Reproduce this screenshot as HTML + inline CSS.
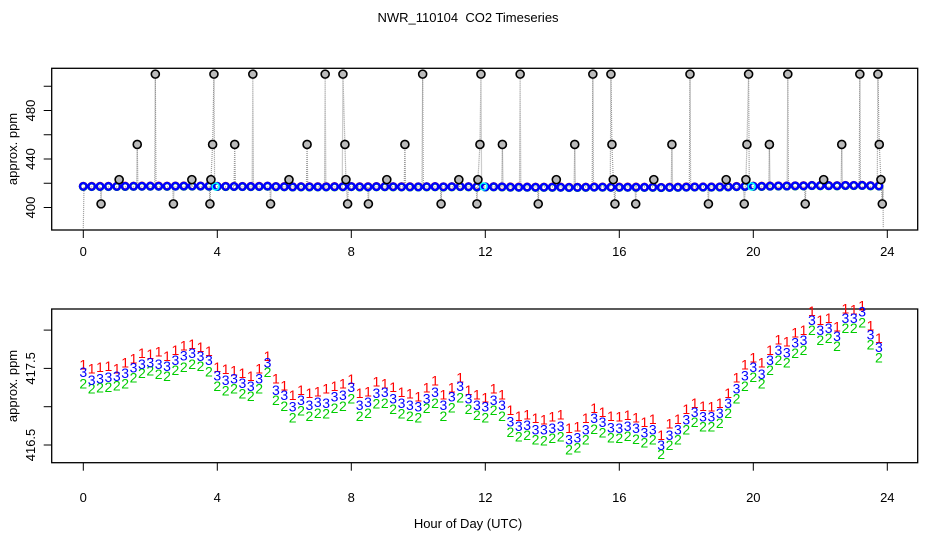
<!DOCTYPE html>
<html><head><meta charset="utf-8"><style>
body{margin:0;background:#fff;}
svg{display:block;font-family:"Liberation Sans",sans-serif;}
</style></head><body>
<svg id="chart" width="936" height="540" viewBox="0 0 936 540">
<text x="468" y="22" text-anchor="middle" font-size="13" style="white-space:pre">NWR_110104  CO2 Timeseries</text>
<text x="468" y="528" text-anchor="middle" font-size="13">Hour of Day (UTC)</text>
<g id="top"></g>
<g id="bot"></g>
</svg>
<script>
const hours=[0,0.25,0.5,0.75,1,1.25,1.5,1.75,2,2.25,2.5,2.75,3,3.25,3.5,3.75,4,4.25,4.5,4.75,5,5.25,5.5,5.75,6,6.25,6.5,6.75,7,7.25,7.5,7.75,8,8.25,8.5,8.75,9,9.25,9.5,9.75,10,10.25,10.5,10.75,11,11.25,11.5,11.75,12,12.25,12.5,12.75,13,13.25,13.5,13.75,14,14.25,14.5,14.75,15,15.25,15.5,15.75,16,16.25,16.5,16.75,17,17.25,17.5,17.75,18,18.25,18.5,18.75,19,19.25,19.5,19.75,20,20.25,20.5,20.75,21,21.25,21.5,21.75,22,22.25,22.5,22.75,23,23.25,23.5,23.75];
const series1=[417.55,417.50,417.52,417.53,417.50,417.58,417.63,417.70,417.69,417.72,417.66,417.74,417.80,417.82,417.78,417.73,
417.52,417.49,417.47,417.44,417.40,417.50,417.66,417.37,417.28,417.15,417.22,417.18,417.20,417.24,417.27,417.30,
417.36,417.18,417.20,417.33,417.30,417.26,417.19,417.17,417.13,417.25,417.34,417.16,417.25,417.38,417.22,417.16,
417.12,417.24,417.16,416.96,416.88,416.90,416.85,416.83,416.87,416.90,416.72,416.74,416.85,416.98,416.93,416.88,
416.87,416.89,416.86,416.80,416.84,416.63,416.78,416.84,416.97,417.05,417.01,417.00,417.05,417.18,417.38,417.55,
417.64,417.58,417.74,417.88,417.85,417.97,418.00,418.25,418.13,418.16,418.05,418.28,418.27,418.32,418.06,417.90];
const series2=[417.30,417.24,417.25,417.26,417.28,417.30,417.38,417.44,417.47,417.43,417.40,417.48,417.52,417.56,417.53,417.46,
417.27,417.21,417.24,417.17,417.14,417.24,417.45,417.09,417.01,416.86,416.95,416.88,416.92,416.91,416.98,417.01,
417.11,416.88,416.92,417.04,417.05,416.97,416.91,416.88,416.86,416.98,417.05,416.88,416.99,417.12,416.97,416.89,
416.86,416.96,416.88,416.67,416.61,416.63,416.57,416.56,416.59,416.61,416.44,416.47,416.57,416.71,416.66,416.60,
416.59,416.62,416.58,416.53,416.57,416.38,416.50,416.57,416.70,416.80,416.74,416.74,416.79,416.92,417.11,417.27,
417.39,417.30,417.48,417.61,417.58,417.70,417.74,418.00,417.87,417.90,417.79,418.03,418.03,418.10,417.81,417.64];
const series3=[417.45,417.35,417.37,417.39,417.40,417.44,417.51,417.56,417.58,417.56,417.53,417.61,417.67,417.70,417.66,417.61,
417.41,417.35,417.37,417.31,417.27,417.37,417.58,417.22,417.15,417.00,417.09,417.02,417.06,417.05,417.13,417.15,
417.26,417.02,417.06,417.18,417.19,417.11,417.05,417.02,417.00,417.11,417.19,417.02,417.13,417.27,417.11,417.02,
417.00,417.09,417.02,416.81,416.75,416.76,416.70,416.70,416.72,416.75,416.57,416.60,416.70,416.85,416.80,416.73,
416.72,416.75,416.72,416.66,416.70,416.50,416.63,416.70,416.83,416.93,416.87,416.87,416.92,417.05,417.24,417.41,
417.52,417.43,417.61,417.74,417.71,417.84,417.87,418.13,418.00,418.03,417.92,418.16,418.16,418.24,417.94,417.78];
const cyanHours=[3.95,11.95,19.95];
const cyanValues=[417.3,417.3,417.3];
const spikeHours=[0.53,1.07,1.61,2.15,2.69,3.24,3.78,3.81,3.86,3.90,4.52,5.06,5.59,6.14,6.68,7.22,7.75,7.81,7.84,7.89,8.51,9.06,9.60,10.13,10.68,11.21,11.75,11.78,11.84,11.87,12.51,13.04,13.58,14.12,14.67,15.21,15.75,15.78,15.82,15.87,16.49,17.03,17.57,18.11,18.66,19.19,19.73,19.78,19.81,19.86,20.48,21.03,21.55,22.10,22.64,23.18,23.72,23.76,23.81,23.85];
const spikeValues=[403,423,452,510,403,423,403,423,452,510,452,510,403,423,452,510,510,452,423,403,403,423,452,510,403,423,403,423,452,510,452,510,403,423,452,510,510,452,423,403,403,423,452,510,403,423,403,423,452,510,452,510,403,423,452,510,510,452,423,403];
const xTicks=[0,4,8,12,16,20,24];
const topYTicks=[400,420,440,460,480,500];
const topYLabels=[400,440,480];
const botYTicks=[416.5,417.0,417.5,418.0];
const botYLabels=[416.5,417.5];

const NS="http://www.w3.org/2000/svg";
function mk(tag,attrs,parent){const e=document.createElementNS(NS,tag);for(const k in attrs)e.setAttribute(k,attrs[k]);parent.appendChild(e);return e;}
const L=51.7,R=917.7;
const xS=h=>83.3+h*33.5;
const yTop=v=>207.5-(v-400)*1.2125;
const yBot=v=>445-(v-416.5)*76.6;

function panel(g,top,bottom,yS,ticks,labels,fmt,xlabY,mid){
  const box=mk('rect',{x:L,y:top,width:R-L,height:bottom-top,fill:'none',stroke:'#000','stroke-width':1.3},g);
  
  
  xTicks.forEach(t=>{
    const l=mk('line',{x1:xS(t),x2:xS(t),y1:bottom,y2:bottom+8,stroke:'#000'},g);
    
    
    const tx=mk('text',{x:xS(t),y:xlabY,'text-anchor':'middle','font-size':13},g);
    
    
    tx.textContent=t;
  });
  ticks.forEach(t=>{
    const l=mk('line',{x1:L-8,x2:L,y1:yS(t),y2:yS(t),stroke:'#000'},g);
    
    
  });
  labels.forEach(t=>{
    const tx=mk('text',{x:0,y:0,'text-anchor':'middle','font-size':13,transform:`translate(35,${yS(t)}) rotate(-90)`},g);
    
    
    tx.textContent=fmt(t);
  });
  const yt=mk('text',{x:0,y:0,'text-anchor':'middle','font-size':13,transform:`translate(17,${mid}) rotate(-90)`},g);
  
  
  yt.textContent='approx. ppm';
}
const gt=document.getElementById('top'),gb=document.getElementById('bot');
panel(gt,68.3,230,yTop,topYTicks,topYLabels,t=>String(t),256,149);
panel(gb,309,462.7,yBot,botYTicks,botYLabels,t=>t.toFixed(1),502,386);

let pts=[[0,383],[0.02,417]];
for(let i=0;i<spikeHours.length;i++){
  const h=spikeHours[i];
  if(i===0||h-spikeHours[i-1]>0.1)pts.push([h-0.02,417]);
  pts.push([h,spikeValues[i]]);
  if(i===spikeHours.length-1||spikeHours[i+1]-h>0.1)pts.push([h+0.02,417]);
}
pts.push([23.88,383]);
const pl=mk('polyline',{points:pts.map(p=>xS(p[0])+','+yTop(p[1])).join(' '),fill:'none',stroke:'#999','stroke-width':1.2,'stroke-dasharray':'1 1'},gt);


[[series1,'#f00'],[series2,'#0c0'],[series3,'#00f']].forEach(([s,c])=>{
  s.forEach((v,i)=>{
    const p=mk('circle',{cx:xS(hours[i]),cy:yTop(v),r:3.3,fill:'none',stroke:c,'stroke-width':2.4},gt);
    
    
  });
});
cyanHours.forEach((h,i)=>{
  const p=mk('circle',{cx:xS(h),cy:yTop(cyanValues[i]),r:3.5,fill:'none',stroke:'#0ff','stroke-width':1.5},gt);
  
  
});
spikeHours.forEach((h,i)=>{
  const c=mk('circle',{cx:xS(h),cy:yTop(spikeValues[i]),r:4,fill:'#bbb',stroke:'#000','stroke-width':1.6},gt);
  
  
});

[[series1,'#f00','1'],[series2,'#0c0','2'],[series3,'#00f','3']].forEach(([s,c,ch])=>{
  s.forEach((v,i)=>{
    const t=mk('text',{x:xS(hours[i]),y:yBot(v)+5,'text-anchor':'middle','font-size':14,fill:c},gb);
    
    
    t.textContent=ch;
  });
});
</script>
</body></html>
